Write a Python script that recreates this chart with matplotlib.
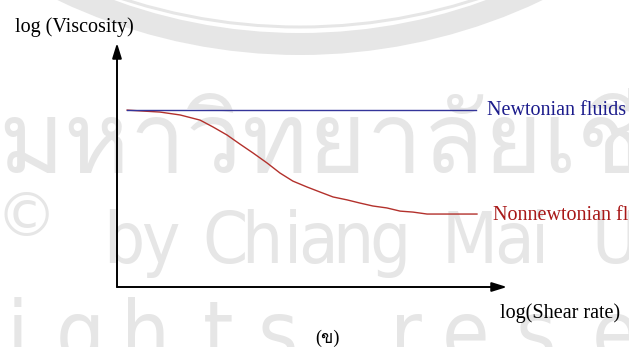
import matplotlib
matplotlib.use("Agg")
import matplotlib.pyplot as plt
from matplotlib import font_manager
from matplotlib.font_manager import FontProperties
from matplotlib.ft2font import FT2Font
from matplotlib.patches import Circle

# ---------------- data ----------------
shear_rate = [0.26, 0.67, 1.10, 1.62, 2.13, 2.46, 2.82, 3.15, 3.49, 3.85, 4.18, 4.51,
              4.87, 5.21, 5.54, 5.90, 6.23, 6.56, 6.92, 7.26, 7.59, 7.95, 8.28, 9.23]
visc_nonnewtonian = [7.25, 7.21, 7.17, 7.05, 6.84, 6.56, 6.23, 5.86, 5.49, 5.08, 4.67, 4.34,
                     4.10, 3.89, 3.69, 3.57, 3.44, 3.32, 3.24, 3.11, 3.07, 2.99, 2.99, 2.99]
newton_x = [0.26, 9.2]
visc_newtonian = [7.25, 7.25]
series_labels = ["Newtonian fluids", "Nonnewtonian fluids"]
xlabel = "log(Shear rate)"
ylabel = "log (Viscosity)"
caption = "(ข)"

# ---------------- fonts ----------------
def find_font_with(ch):
    seen = set()
    for fe in font_manager.fontManager.ttflist:
        if fe.name in seen or "CJK" in fe.name:
            continue
        seen.add(fe.name)
        try:
            if ord(ch) in FT2Font(fe.fname).get_charmap():
                return fe.name
        except Exception:
            pass
    return None

def find_condensed():
    for fe in font_manager.fontManager.ttflist:
        n = fe.name + " " + str(fe.stretch) + " " + fe.fname
        if ("ondensed" in n or "Narrow" in n) and "Serif" not in n and "Mono" not in n:
            if "Bold" in fe.fname or "Italic" in fe.fname or "Oblique" in fe.fname:
                continue
            return fe.fname
    return None

thai_font = find_font_with("ข")
cond = find_condensed()
wm_props = dict(fontproperties=FontProperties(fname=cond)) if cond else dict(family="Roboto")
serif = ["Liberation Serif", "DejaVu Serif"] + ([thai_font] if thai_font else [])

W, H = 629, 347
fig = plt.figure(figsize=(W / 100, H / 100), dpi=100)

# ---------------- watermark layer (pixel coordinates) ----------------
bg = fig.add_axes([0, 0, 1, 1], zorder=0)
bg.set_xlim(0, W)
bg.set_ylim(H, 0)
bg.axis("off")
wm = "#e6e6e6"
bg.add_patch(Circle((300, -509), 553, fill=False, lw=22 * 0.72, ec=wm))
bg.add_patch(Circle((300, -546), 573, fill=False, lw=3 * 0.72, ec=wm))
bg.text(26, 219, "©", fontsize=44, family="DejaVu Sans", color=wm, ha="center", va="center")
for ch, xc in [("b", 124), ("y", 160), ("C", 225), ("h", 262), ("i", 293), ("a", 318),
               ("n", 353), ("g", 390), ("M", 470), ("a", 514), ("i", 540), ("U", 615)]:
    t = bg.text(xc, 263, ch, color=wm, ha="center", va="baseline", **wm_props)
    t.set_fontsize(52)
for ch, xc in [("i", 17), ("g", 80), ("h", 145), ("t", 218), ("s", 278),
               ("r", 406), ("e", 466), ("s", 536), ("e", 616)]:
    t = bg.text(xc, 362, ch, color=wm, ha="center", va="baseline", **wm_props)
    t.set_fontsize(62)
if thai_font:
    bg.text(-2, 173, "มหาวิทยาลัยเชียงใหม่", fontsize=72, family=thai_font,
            color=wm, ha="left", va="baseline")

# ---------------- main chart ----------------
ax = fig.add_axes([117 / W, (H - 287) / H, 390 / W, 244 / H], zorder=2)
ax.patch.set_alpha(0)
ax.set_xlim(0, 10)
ax.set_ylim(0, 10)
for s in ax.spines.values():
    s.set_visible(False)
ax.set_xticks([])
ax.set_yticks([])

arrow = dict(arrowstyle="-|>,head_length=0.9,head_width=0.28", lw=1.4, color="black",
             mutation_scale=10, shrinkA=0, shrinkB=0)
ax.annotate("", xy=(1, 0), xytext=(0, 0), xycoords="axes fraction", arrowprops=arrow,
            annotation_clip=False)
ax.annotate("", xy=(0, 1), xytext=(0, 0), xycoords="axes fraction", arrowprops=arrow,
            annotation_clip=False)

ax.plot(shear_rate, visc_nonnewtonian, color="#b3312c", lw=1.0, clip_on=False)
ax.plot(newton_x, visc_newtonian, color="#34359a", lw=1.0, clip_on=False)

# ---------------- texts (pixel coordinates) ----------------
tx = fig.add_axes([0, 0, 1, 1], zorder=3)
tx.set_xlim(0, W)
tx.set_ylim(H, 0)
tx.axis("off")
tx.text(15, 32, ylabel, fontsize=14.5, family=serif, color="black", va="baseline")
tx.text(500, 318, xlabel, fontsize=14.5, family=serif, color="black", va="baseline")
tx.text(487, 115, series_labels[0], fontsize=14.5, family=serif, color="#1c1c8c", va="baseline")
tx.text(493, 220, series_labels[1], fontsize=14.5, family=serif, color="#a81818", va="baseline")
tx.text(315, 343, caption, fontsize=13, family=serif, color="black", va="baseline")

fig.savefig("out.png", dpi=100)
